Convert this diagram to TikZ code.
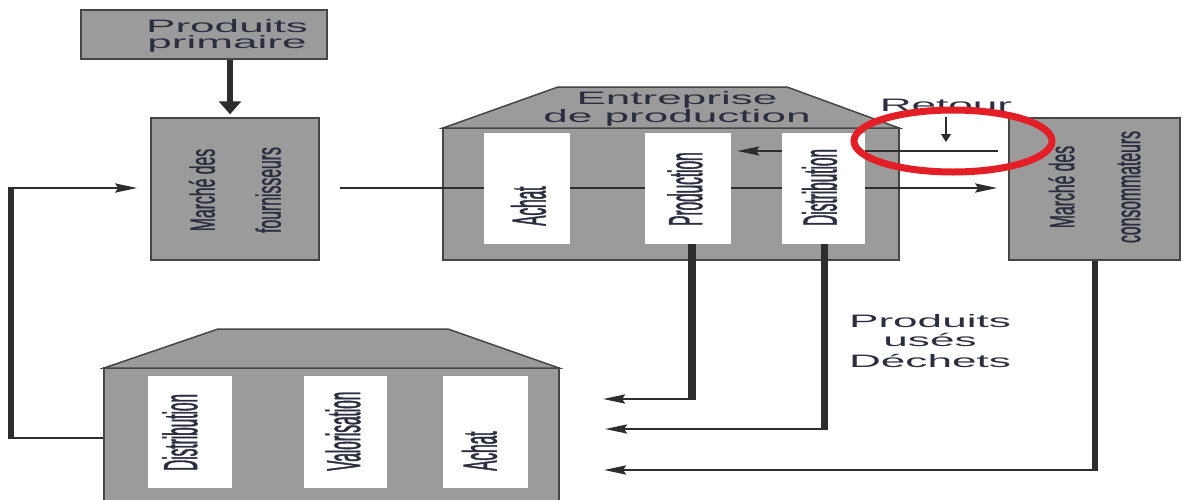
\documentclass[tikz,border=0pt]{standalone}
\usepackage{fontspec}
\setmainfont{Liberation Sans}
\newfontfamily\widefont[FakeStretch=2.45]{Liberation Sans}
\newfontfamily\narrowfont[FakeStretch=0.32,FakeBold=0.8]{Liberation Sans}
\newfontfamily\marketfont[FakeStretch=0.45,FakeBold=0.8]{Liberation Sans}
\usetikzlibrary{arrows.meta,calc}

\definecolor{boxgray}{RGB}{155,155,155}
\definecolor{edgegray}{RGB}{70,70,70}
\definecolor{ink}{RGB}{45,45,45}
\definecolor{txt}{RGB}{42,46,62}
\definecolor{marker}{RGB}{228,30,38}

\begin{document}
\begin{tikzpicture}[x=1pt,y=-1pt,
  graybox/.style={draw=edgegray,line width=1.5pt,fill=boxgray,rectangle,inner sep=0pt},
  whitebox/.style={fill=white,rectangle,inner sep=0pt},
  htext/.style={text=txt,anchor=base,inner sep=0pt,font=\widefont\fontsize{18}{18}\selectfont},
  vlabel/.style={text=txt,rotate=90,anchor=west,inner sep=0pt,font=\narrowfont\fontsize{48}{48}\selectfont},
  mlabel/.style={text=txt,rotate=90,align=center,inner sep=0pt,font=\marketfont\fontsize{35}{66}\selectfont},
  flow/.style={draw=ink,line width=2.5pt},
  heavy/.style={draw=ink,line width=7pt},
  tipped/.style={-{Stealth[length=22pt,width=9pt,inset=3pt]}},
]
\useasboundingbox (0,0) rectangle (1184,499);
\fill[white] (0,0) rectangle (1184,499);
\clip (0,0) rectangle (1184,499);

% raw materials
\node[graybox,minimum width=246pt,minimum height=49pt] (pp) at (204,34.5) {};
\node[htext] (ppa) at (227,32) {Produits};
\node[htext] (ppb) at (227,48) {primaire};

% markets
\node[graybox,minimum width=168pt,minimum height=142pt] (fourn) at (235,189) {};
\node[mlabel] (fournt) at (235,190) {Marché des\\fournisseurs};
\node[graybox,minimum width=171pt,minimum height=142pt] (cons) at (1094.5,189) {};
\node[mlabel] (const) at (1094.5,187) {Marché des\\consommateurs};

% production company
\node[graybox,minimum width=456pt,minimum height=132pt] (ent) at (671,194) {};
\draw[edgegray,line width=1.5pt,fill=boxgray] (443,128) -- (558,87) -- (787,87) -- (899,128) -- cycle;
\node[htext] (enta) at (677,104) {Entreprise};
\node[htext] (entb) at (677,122) {de production};

% flows through the company
\coordinate (flowstart) at (340,188);
\draw[flow,tipped,shorten >=11pt] (flowstart) -- (flowstart -| cons.west);

\node[whitebox,minimum width=86pt,minimum height=111pt] (achE) at (527,188.5) {};
\node[whitebox,minimum width=86pt,minimum height=111pt] (prodE) at (688,188.5) {};

\coordinate (retstart) at (998,151);
\draw[flow,tipped,shorten >=6pt] (retstart) -- (retstart -| prodE.east);

\node[whitebox,minimum width=83pt,minimum height=111pt] (distE) at (823.5,188.5) {};
\node[vlabel] (achEt) at (528.5,226) {Achat};
\node[vlabel] (prodEt) at (685,226) {Production};
\node[vlabel] (distEt) at (819.5,226) {Distribution};

% outgoing used products and waste
\coordinate (pc) at (692,399);
\coordinate (pe) at (603,399);
\draw[heavy,line width=8pt] (pc |- prodE.south) -- ([yshift=-1.25pt]pc);
\draw[flow,tipped] ([xshift=4pt]pc) -- (pe);

\coordinate (dc) at (824,429);
\coordinate (de) at (605,429);
\draw[heavy] (dc |- distE.south) -- ([yshift=-1.25pt]dc);
\draw[flow,tipped] ([xshift=3.5pt]dc) -- (de);

\coordinate (cc) at (1095,470);
\coordinate (ce) at (604,470);
\draw[heavy,line width=6pt] (cc |- cons.south) -- ([yshift=-1.25pt]cc);
\draw[flow,tipped] ([xshift=3pt]cc) -- (ce);

% recycling company
\node[graybox,minimum width=455pt,minimum height=152pt] (rec) at (331.5,444) {};
\draw[edgegray,line width=1.5pt,fill=boxgray] (104,368) -- (218,329) -- (448,329) -- (559,368) -- cycle;
\node[whitebox,minimum width=84pt,minimum height=112pt] (distR) at (190,432) {};
\node[whitebox,minimum width=83pt,minimum height=112pt] (valR) at (345.5,432) {};
\node[whitebox,minimum width=85pt,minimum height=112pt] (achR) at (485.5,432) {};
\node[vlabel] (distRt) at (180,471) {Distribution};
\node[vlabel] (valRt) at (343,471) {Valorisation};
\node[vlabel] (achRt) at (479.5,471) {Achat};

% loop back to the suppliers' market
\coordinate (lb) at (11,438);
\coordinate (lt) at (11,188);
\draw[flow] (rec.west |- lb) -- (lb);
\draw[heavy,line width=6pt] ([yshift=-1.25pt]lb) -- ([yshift=1.25pt]lt);
\draw[flow,tipped,shorten >=13pt] (lt) -- (lt -| fourn.west);

% return label
\node[htext] (retour) at (946,111) {Retour};
\draw[draw=ink,line width=1.5pt,-{Stealth[length=8pt,width=10pt,inset=0pt]},shorten <=6pt,shorten >=9pt] (retour.south) -- (retour.south |- retstart);

% waste label
\node[htext] (wa) at (930,327) {Produits};
\node[htext] (wb) at (930,346) {usés};
\node[htext] (wc) at (930,367) {Déchets};

% raw materials into the suppliers' market
\coordinate (arrx) at (230,0);
\draw[heavy,line width=6pt,-{Triangle[length=13pt,width=22pt]},shorten >=3pt] (arrx |- pp.south) -- (arrx |- fourn.north);

% highlight of the return flow
\draw[marker,line width=7pt] (953,141) ellipse [x radius=99, y radius=31];
\end{tikzpicture}
\end{document}
